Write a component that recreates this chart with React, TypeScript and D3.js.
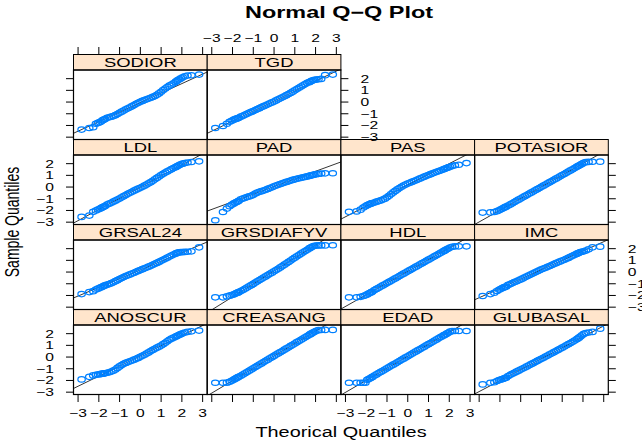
import React from 'react';
import * as d3 from 'd3';

// the original device was drawn narrower and stretched sideways
const SX = 1.42;
const FONT = 'Liberation Sans, Arial, Helvetica, sans-serif';

// theoretical normal quantiles shared by all panels
const THEO = [
  -2.83, -2.46, -2.27, -2.14, -2.04, -1.95, -1.88, -1.81, -1.75, -1.70,
  -1.6, -1.5, -1.4, -1.3, -1.2, -1.1, -1.0, -0.9, -0.8, -0.7, -0.6, -0.5, -0.4, -0.3, -0.2, -0.1,
  0, 0.1, 0.2, 0.3, 0.4, 0.5, 0.6, 0.7, 0.8, 0.9, 1.0, 1.1, 1.2, 1.3, 1.4, 1.5, 1.6,
  1.70, 1.75, 1.81, 1.88, 1.95, 2.04, 2.14, 2.27, 2.46, 2.83,
];

// sample quantiles
const ANOSCUR = [
  -1.91, -1.69, -1.57, -1.52, -1.49, -1.46, -1.44, -1.42, -1.4, -1.38,
  -1.34, -1.3, -1.24, -1.16, -1.06, -0.93, -0.8, -0.68, -0.58, -0.5, -0.43, -0.36, -0.29, -0.22, -0.15, -0.07,
  0.02, 0.11, 0.2, 0.3, 0.4, 0.51, 0.61, 0.71, 0.8, 0.89, 0.99, 1.1, 1.22, 1.35, 1.47, 1.57, 1.66,
  1.74, 1.79, 1.84, 1.9, 1.96, 2.03, 2.1, 2.15, 2.2, 2.26,
];
const CREASANG = [
  -2.2, -2.2, -2.19, -2.12, -2.03, -1.94, -1.87, -1.8, -1.74, -1.69,
  -1.6, -1.49, -1.38, -1.28, -1.17, -1.07, -0.96, -0.85, -0.75, -0.64, -0.54, -0.43, -0.32, -0.22, -0.11, -0.01,
  0.1, 0.21, 0.31, 0.42, 0.52, 0.63, 0.74, 0.84, 0.95, 1.05, 1.16, 1.27, 1.37, 1.48, 1.58, 1.69, 1.8,
  1.9, 1.96, 2.02, 2.09, 2.16, 2.24, 2.3, 2.31, 2.32, 2.32,
];
const EDAD = [
  -2.2, -2.2, -2.2, -2.2, -2.2, -1.95, -1.88, -1.81, -1.75, -1.7,
  -1.58, -1.48, -1.37, -1.27, -1.17, -1.06, -0.96, -0.86, -0.75, -0.65, -0.55, -0.45, -0.34, -0.24, -0.14, -0.03,
  0.07, 0.17, 0.28, 0.38, 0.48, 0.59, 0.69, 0.79, 0.89, 1.0, 1.1, 1.2, 1.31, 1.41, 1.51, 1.62, 1.72,
  1.82, 1.87, 1.93, 2.0, 2.08, 2.17, 2.22, 2.23, 2.23, 2.23,
];
const GLUBASAL = [
  -2.34, -2.2, -2.15, -2.05, -1.97, -1.92, -1.88, -1.84, -1.8, -1.76,
  -1.62, -1.52, -1.43, -1.34, -1.25, -1.16, -1.07, -0.98, -0.89, -0.8, -0.7, -0.61, -0.52, -0.42, -0.33, -0.24,
  -0.15, -0.06, 0.04, 0.13, 0.23, 0.32, 0.42, 0.51, 0.61, 0.7, 0.8, 0.9, 1.0, 1.1, 1.2, 1.3, 1.41,
  1.52, 1.58, 1.66, 1.76, 1.86, 1.98, 2.06, 2.1, 2.15, 2.43,
];
const GRSAL24 = [
  -1.88, -1.71, -1.63, -1.5, -1.42, -1.35, -1.29, -1.23, -1.18, -1.14,
  -1.08, -1.02, -0.95, -0.87, -0.78, -0.69, -0.6, -0.51, -0.42, -0.34, -0.27, -0.2, -0.13, -0.06, 0.02, 0.1,
  0.18, 0.25, 0.32, 0.39, 0.46, 0.54, 0.62, 0.7, 0.78, 0.87, 0.96, 1.05, 1.14, 1.23, 1.32, 1.41, 1.5,
  1.58, 1.62, 1.66, 1.69, 1.7, 1.71, 1.72, 1.74, 1.77, 2.11,
];
const GRSDIAFYV = [
  -2.16, -2.16, -2.08, -2.02, -1.97, -1.92, -1.86, -1.8, -1.76, -1.72,
  -1.62, -1.53, -1.43, -1.33, -1.22, -1.12, -1.01, -0.9, -0.79, -0.68, -0.58, -0.47, -0.37, -0.26, -0.15, -0.05,
  0.06, 0.17, 0.28, 0.4, 0.51, 0.63, 0.75, 0.87, 0.99, 1.11, 1.23, 1.35, 1.46, 1.58, 1.69, 1.8, 1.91,
  2.02, 2.08, 2.14, 2.2, 2.25, 2.27, 2.28, 2.28, 2.28, 2.29,
];
const HDL = [
  -2.16, -2.16, -2.12, -2.05, -1.99, -1.91, -1.84, -1.77, -1.72, -1.67,
  -1.54, -1.44, -1.34, -1.24, -1.14, -1.04, -0.94, -0.84, -0.74, -0.64, -0.54, -0.44, -0.34, -0.24, -0.14, -0.04,
  0.06, 0.16, 0.26, 0.36, 0.46, 0.56, 0.66, 0.76, 0.86, 0.96, 1.06, 1.16, 1.26, 1.36, 1.46, 1.56, 1.66,
  1.76, 1.81, 1.87, 1.94, 2.01, 2.1, 2.16, 2.19, 2.2, 2.2,
];
const IMC = [
  -2.05, -1.88, -1.77, -1.62, -1.52, -1.43, -1.37, -1.31, -1.27, -1.23,
  -1.1, -1.02, -0.94, -0.86, -0.79, -0.71, -0.63, -0.54, -0.45, -0.36, -0.27, -0.19, -0.1, -0.02, 0.07, 0.15,
  0.23, 0.3, 0.37, 0.45, 0.52, 0.6, 0.68, 0.76, 0.84, 0.91, 0.98, 1.05, 1.13, 1.21, 1.3, 1.39, 1.48,
  1.56, 1.6, 1.65, 1.7, 1.74, 1.78, 1.84, 1.95, 2.11, 2.17,
];
const LDL = [
  -2.55, -2.44, -2.12, -2.0, -1.92, -1.85, -1.78, -1.72, -1.67, -1.62,
  -1.5, -1.42, -1.34, -1.25, -1.16, -1.07, -0.98, -0.88, -0.78, -0.68, -0.58, -0.49, -0.4, -0.31, -0.22, -0.14,
  -0.06, 0.03, 0.12, 0.22, 0.32, 0.42, 0.54, 0.66, 0.78, 0.9, 1.02, 1.13, 1.24, 1.34, 1.44, 1.53, 1.62,
  1.7, 1.76, 1.82, 1.88, 1.94, 2.0, 2.05, 2.1, 2.14, 2.2,
];
const PAD = [
  -2.84, -2.13, -1.84, -1.64, -1.52, -1.42, -1.35, -1.28, -1.23, -1.18,
  -1.05, -0.98, -0.92, -0.86, -0.8, -0.74, -0.66, -0.56, -0.47, -0.41, -0.35, -0.29, -0.23, -0.16, -0.09, -0.02,
  0.06, 0.13, 0.2, 0.26, 0.32, 0.38, 0.44, 0.5, 0.56, 0.61, 0.66, 0.7, 0.75, 0.79, 0.83, 0.87, 0.91,
  0.95, 0.98, 1.01, 1.04, 1.07, 1.1, 1.13, 1.15, 1.17, 1.18,
];
const PAS = [
  -2.12, -2.08, -1.93, -1.75, -1.64, -1.55, -1.49, -1.44, -1.4, -1.36,
  -1.32, -1.25, -1.2, -1.14, -1.07, -0.99, -0.88, -0.74, -0.6, -0.46, -0.33, -0.2, -0.08, 0.03, 0.13, 0.22,
  0.3, 0.37, 0.44, 0.51, 0.58, 0.66, 0.74, 0.82, 0.89, 0.96, 1.03, 1.1, 1.17, 1.24, 1.31, 1.37, 1.43,
  1.5, 1.54, 1.58, 1.63, 1.68, 1.74, 1.8, 1.86, 1.91, 2.05,
];
const POTASIOR = [
  -2.18, -2.17, -2.13, -2.06, -1.98, -1.9, -1.84, -1.77, -1.72, -1.67,
  -1.58, -1.48, -1.38, -1.28, -1.18, -1.08, -0.98, -0.88, -0.78, -0.68, -0.58, -0.48, -0.38, -0.28, -0.18, -0.08,
  0.02, 0.12, 0.22, 0.32, 0.42, 0.52, 0.62, 0.72, 0.82, 0.92, 1.02, 1.12, 1.22, 1.32, 1.42, 1.52, 1.62,
  1.73, 1.78, 1.84, 1.91, 1.98, 2.07, 2.13, 2.15, 2.16, 2.17,
];
const SODIOR = [
  -2.35, -2.22, -2.15, -1.85, -1.78, -1.72, -1.65, -1.55, -1.5, -1.45,
  -1.35, -1.3, -1.25, -1.2, -1.12, -1.02, -0.92, -0.82, -0.72, -0.62, -0.53, -0.44, -0.35, -0.25, -0.15, -0.06,
  0.02, 0.1, 0.17, 0.24, 0.3, 0.37, 0.44, 0.52, 0.62, 0.74, 0.88, 1.02, 1.15, 1.28, 1.4, 1.5, 1.6,
  1.72, 1.8, 1.88, 1.95, 2.02, 2.12, 2.2, 2.27, 2.29, 2.35,
];
const TGD = [
  -2.22, -2.05, -1.85, -1.68, -1.6, -1.52, -1.46, -1.42, -1.38, -1.34,
  -1.25, -1.17, -1.09, -1.0, -0.92, -0.84, -0.76, -0.68, -0.6, -0.52, -0.43, -0.35, -0.27, -0.19, -0.11, -0.03,
  0.05, 0.14, 0.23, 0.32, 0.41, 0.5, 0.59, 0.68, 0.78, 0.89, 1.0, 1.11, 1.22, 1.33, 1.44, 1.54, 1.64,
  1.7, 1.76, 1.82, 1.86, 1.9, 1.92, 1.95, 1.98, 2.3, 2.35,
];

// lattice order: bottom-left first, left to right, then upwards
const PANEL_NAMES = [
  'ANOSCUR', 'CREASANG', 'EDAD', 'GLUBASAL',
  'GRSAL24', 'GRSDIAFYV', 'HDL', 'IMC',
  'LDL', 'PAD', 'PAS', 'POTASIOR',
  'SODIOR', 'TGD',
];
const PANEL_SERIES = [
  ANOSCUR, CREASANG, EDAD, GLUBASAL,
  GRSAL24, GRSDIAFYV, HDL, IMC,
  LDL, PAD, PAS, POTASIOR,
  SODIOR, TGD,
];

const X_TICKS = [-3, -2, -1, 0, 1, 2, 3];
const Y_TICKS = [-3, -2, -1, 0, 1, 2];

const X_LIM = [-3.22, 3.22];
const Y_LIM = [-3.2, 2.74];

const left0 = 73.5;
const colW = 133.7;
const top0 = 54.5;
const rowH = 85;
const stripH = 15.5;
const tck = 7.5;

const fmt = (d: number) => (d < 0 ? `\u2212${-d}` : `${d}`);

function Txt({x, y, anchor = 'middle', size = 11, weight = 'normal', rot = 0, children}: any) {
  return (
    <text
      transform={`translate(${x},${y}) scale(${SX},1)${rot ? ` rotate(${rot})` : ''}`}
      textAnchor={anchor}
      fontSize={size}
      fontWeight={weight}
      fontFamily={FONT}
      fill="#000"
    >
      {children}
    </text>
  );
}

// linear lookup in the sample quantiles, used for the quartile line
function sampleAt(ys: number[], x: number) {
  const i = d3.bisectLeft(THEO, x);
  const t = (x - THEO[i - 1]) / (THEO[i] - THEO[i - 1]);
  return ys[i - 1] + t * (ys[i] - ys[i - 1]);
}

function Panel({idx}: {idx: number}) {
  const row = 3 - Math.floor(idx / 4);
  const col = idx % 4;
  const L = left0 + col * colW;
  const T = top0 + row * rowH;
  const ys = PANEL_SERIES[idx];

  const x = d3.scaleLinear().domain(X_LIM).range([L, L + colW]);
  const y = d3.scaleLinear().domain(Y_LIM).range([T + rowH, T + stripH]);

  // qqline through the quartiles
  const q = 0.6745;
  const y1 = sampleAt(ys, -q);
  const y3 = sampleAt(ys, q);
  const slope = (y3 - y1) / (2 * q);
  const icpt = y1 + slope * q;
  const line = d3.line<number>()
    .x((d) => x(d))
    .y((d) => y(icpt + slope * d));

  const clipId = `clip-${idx}`;

  return (
    <g>
      <clipPath id={clipId}>
        <rect x={L} y={T + stripH} width={colW} height={rowH - stripH} />
      </clipPath>
      <rect x={L} y={T} width={colW} height={stripH} fill="#FFE5CC" stroke="#000" strokeWidth={1} />
      <Txt x={L + colW / 2} y={T + stripH - 3} size={13}>{PANEL_NAMES[idx]}</Txt>
      <g clipPath={`url(#${clipId})`}>
        <path d={line(X_LIM) || ''} fill="none" stroke="#000" strokeWidth={0.8} />
        {THEO.map((tq, i) => (
          <ellipse
            key={i}
            cx={x(tq)}
            cy={y(ys[i])}
            rx={3.7}
            ry={2.7}
            fill="none"
            stroke="#0080FF"
            strokeWidth={1.25}
          />
        ))}
      </g>
      <rect x={L} y={T + stripH} width={colW} height={rowH - stripH} fill="none" stroke="#000" strokeWidth={1.2} />
    </g>
  );
}

function Axes() {
  const items: any[] = [];
  for (let row = 0; row < 4; row++) {
    const T = top0 + row * rowH;
    const y = d3.scaleLinear().domain(Y_LIM).range([T + rowH, T + stripH]);
    const R = left0 + (row === 0 ? 2 : 4) * colW;
    const leftLab = row % 2 === 1;
    const rightLab = row % 2 === 0;
    Y_TICKS.forEach((t) => {
      const yy = y(t);
      items.push(<line key={`l${row}${t}`} x1={left0 - tck} x2={left0} y1={yy} y2={yy} stroke="#000" />);
      items.push(<line key={`r${row}${t}`} x1={R} x2={R + tck} y1={yy} y2={yy} stroke="#000" />);
      if (leftLab) items.push(<Txt key={`lt${row}${t}`} x={left0 - 19.5} y={yy + 4} anchor="end">{fmt(t)}</Txt>);
      if (rightLab) items.push(<Txt key={`rt${row}${t}`} x={R + 19.5} y={yy + 4} anchor="start">{fmt(t)}</Txt>);
    });
  }
  for (let col = 0; col < 4; col++) {
    const L = left0 + col * colW;
    const x = d3.scaleLinear().domain(X_LIM).range([L, L + colW]);
    const bottom = top0 + 4 * rowH;
    X_TICKS.forEach((t) => {
      const xx = x(t);
      if (col < 2) {
        items.push(<line key={`t${col}${t}`} x1={xx} x2={xx} y1={top0} y2={top0 - tck} stroke="#000" />);
        if (col === 1) items.push(<Txt key={`tt${col}${t}`} x={xx} y={42} >{fmt(t)}</Txt>);
      }
      items.push(<line key={`b${col}${t}`} x1={xx} x2={xx} y1={bottom} y2={bottom + tck} stroke="#000" />);
      if (col % 2 === 0) items.push(<Txt key={`bt${col}${t}`} x={xx} y={bottom + 22.5}>{fmt(t)}</Txt>);
    });
  }
  return <g>{items}</g>;
}

export default function App() {
  return (
    <svg
      width={642}
      height={443}
      style={{position: 'absolute', left: 0, top: 0, background: '#fff'}}
    >
      <Txt x={339} y={17.5} size={16.5} weight="bold">Normal Q−Q Plot</Txt>
      {PANEL_NAMES.map((_, i) => (
        <Panel key={i} idx={i} />
      ))}
      <Axes />
      <Txt x={341} y={437} size={14}>Theorical Quantiles</Txt>
      <Txt x={18.5} y={222} size={14} rot={-90}>Sample Quantiles</Txt>
    </svg>
  );
}
